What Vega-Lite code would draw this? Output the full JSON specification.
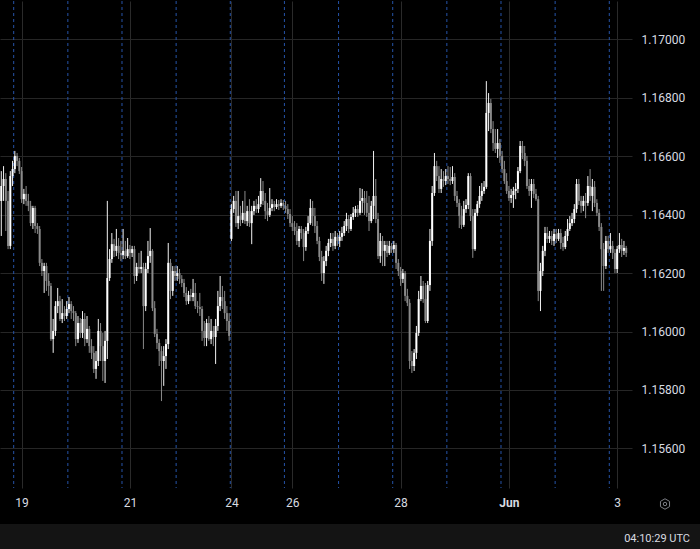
{
"$schema": "https://vega.github.io/schema/vega-lite/v6.json",
"background": "#000000",
"padding": 0,
"spacing": 12,
"config": {"view": {"stroke": null}, "font": "Roboto"},
"datasets": {
"sessions": [{"t":-0.5},{"t":23.5},{"t":47.5},{"t":71.5},{"t":95.5},{"t":119.5},{"t":143.5},{"t":167.5},{"t":191.5},{"t":215.5},{"t":239.5},{"t":263.5}],
"candles": [
{"t":-6,"o":1.16447,"h":1.16549,"l":1.16327,"c":1.16498},
{"t":-5,"o":1.16498,"h":1.16566,"l":1.16447,"c":1.16522},
{"t":-4,"o":1.16522,"h":1.16542,"l":1.16344,"c":1.16447},
{"t":-3,"o":1.16447,"h":1.16481,"l":1.16282,"c":1.16293},
{"t":-2,"o":1.16293,"h":1.16549,"l":1.16282,"c":1.16532},
{"t":-1,"o":1.16532,"h":1.16584,"l":1.16498,"c":1.16556},
{"t":0,"o":1.16556,"h":1.16618,"l":1.16542,"c":1.16601},
{"t":1,"o":1.16601,"h":1.16611,"l":1.16566,"c":1.16584},
{"t":2,"o":1.16584,"h":1.16594,"l":1.16539,"c":1.16549},
{"t":3,"o":1.16549,"h":1.16563,"l":1.1644,"c":1.16453},
{"t":4,"o":1.16453,"h":1.16488,"l":1.16436,"c":1.16471},
{"t":5,"o":1.16471,"h":1.16498,"l":1.1643,"c":1.16447},
{"t":6,"o":1.16447,"h":1.16471,"l":1.16412,"c":1.1643},
{"t":7,"o":1.1643,"h":1.16447,"l":1.16361,"c":1.16371},
{"t":8,"o":1.16371,"h":1.1643,"l":1.16351,"c":1.16423},
{"t":9,"o":1.16423,"h":1.1643,"l":1.16337,"c":1.16361},
{"t":10,"o":1.16361,"h":1.16371,"l":1.16334,"c":1.16351},
{"t":11,"o":1.16351,"h":1.16361,"l":1.16224,"c":1.16235},
{"t":12,"o":1.16235,"h":1.16248,"l":1.1619,"c":1.16207},
{"t":13,"o":1.16207,"h":1.16235,"l":1.16132,"c":1.16224},
{"t":14,"o":1.16224,"h":1.16235,"l":1.16139,"c":1.16173},
{"t":15,"o":1.16173,"h":1.162,"l":1.16122,"c":1.16156},
{"t":16,"o":1.16156,"h":1.16166,"l":1.15968,"c":1.15974},
{"t":17,"o":1.15974,"h":1.16043,"l":1.15927,"c":1.16002},
{"t":18,"o":1.16002,"h":1.16104,"l":1.15985,"c":1.16087},
{"t":19,"o":1.16087,"h":1.16149,"l":1.16063,"c":1.16104},
{"t":20,"o":1.16104,"h":1.16122,"l":1.16036,"c":1.16043},
{"t":21,"o":1.16043,"h":1.16111,"l":1.16029,"c":1.16063},
{"t":22,"o":1.16063,"h":1.16087,"l":1.16036,"c":1.16053},
{"t":23,"o":1.16053,"h":1.16104,"l":1.16043,"c":1.16077},
{"t":24,"o":1.16077,"h":1.16118,"l":1.16063,"c":1.16094},
{"t":25,"o":1.16094,"h":1.16104,"l":1.16043,"c":1.1607},
{"t":26,"o":1.1607,"h":1.16087,"l":1.16036,"c":1.16063},
{"t":27,"o":1.16063,"h":1.1607,"l":1.1595,"c":1.15974},
{"t":28,"o":1.15974,"h":1.16053,"l":1.15961,"c":1.16029},
{"t":29,"o":1.16029,"h":1.16046,"l":1.15978,"c":1.15995},
{"t":30,"o":1.15995,"h":1.1607,"l":1.15978,"c":1.16043},
{"t":31,"o":1.16043,"h":1.16063,"l":1.1595,"c":1.15974},
{"t":32,"o":1.15974,"h":1.16053,"l":1.15961,"c":1.16009},
{"t":33,"o":1.16009,"h":1.16019,"l":1.15927,"c":1.1595},
{"t":34,"o":1.1595,"h":1.15974,"l":1.15906,"c":1.15927},
{"t":35,"o":1.15927,"h":1.1595,"l":1.15858,"c":1.15872},
{"t":36,"o":1.15872,"h":1.15933,"l":1.15838,"c":1.15899},
{"t":37,"o":1.15899,"h":1.16043,"l":1.15882,"c":1.16002},
{"t":38,"o":1.16002,"h":1.16029,"l":1.15899,"c":1.1595},
{"t":39,"o":1.1595,"h":1.15995,"l":1.15831,"c":1.15899},
{"t":40,"o":1.15899,"h":1.16002,"l":1.15824,"c":1.15968},
{"t":41,"o":1.15968,"h":1.16447,"l":1.15906,"c":1.16183},
{"t":42,"o":1.16183,"h":1.16282,"l":1.16173,"c":1.16248},
{"t":43,"o":1.16248,"h":1.16337,"l":1.16235,"c":1.16299},
{"t":44,"o":1.16299,"h":1.16317,"l":1.16255,"c":1.16276},
{"t":45,"o":1.16276,"h":1.16351,"l":1.16258,"c":1.16293},
{"t":46,"o":1.16293,"h":1.1632,"l":1.16248,"c":1.16269},
{"t":47,"o":1.16269,"h":1.1631,"l":1.16241,"c":1.16262},
{"t":48,"o":1.16262,"h":1.16351,"l":1.16248,"c":1.16276},
{"t":49,"o":1.16276,"h":1.1631,"l":1.16248,"c":1.16258},
{"t":50,"o":1.16258,"h":1.1632,"l":1.16252,"c":1.16282},
{"t":51,"o":1.16282,"h":1.16296,"l":1.16248,"c":1.16269},
{"t":52,"o":1.16269,"h":1.16293,"l":1.16255,"c":1.16282},
{"t":53,"o":1.16282,"h":1.16293,"l":1.16163,"c":1.1619},
{"t":54,"o":1.1619,"h":1.16235,"l":1.16173,"c":1.16221},
{"t":55,"o":1.16221,"h":1.16269,"l":1.162,"c":1.16214},
{"t":56,"o":1.16214,"h":1.16276,"l":1.162,"c":1.16221},
{"t":57,"o":1.16221,"h":1.16235,"l":1.1594,"c":1.16087},
{"t":58,"o":1.16087,"h":1.16235,"l":1.1607,"c":1.16214},
{"t":59,"o":1.16214,"h":1.1631,"l":1.162,"c":1.16258},
{"t":60,"o":1.16258,"h":1.16354,"l":1.16235,"c":1.16276},
{"t":61,"o":1.16276,"h":1.16282,"l":1.1607,"c":1.1608},
{"t":62,"o":1.1608,"h":1.16104,"l":1.15981,"c":1.15992},
{"t":63,"o":1.15992,"h":1.16009,"l":1.1594,"c":1.15961},
{"t":64,"o":1.15961,"h":1.15974,"l":1.15882,"c":1.15933},
{"t":65,"o":1.15933,"h":1.1595,"l":1.15762,"c":1.15899},
{"t":66,"o":1.15899,"h":1.1595,"l":1.15814,"c":1.15916},
{"t":67,"o":1.15916,"h":1.15974,"l":1.15872,"c":1.15957},
{"t":68,"o":1.15957,"h":1.16303,"l":1.1594,"c":1.16235},
{"t":69,"o":1.16235,"h":1.16248,"l":1.16111,"c":1.16139},
{"t":70,"o":1.16139,"h":1.16224,"l":1.16122,"c":1.16207},
{"t":71,"o":1.16207,"h":1.16224,"l":1.16173,"c":1.1619},
{"t":72,"o":1.1619,"h":1.16224,"l":1.16173,"c":1.162},
{"t":73,"o":1.162,"h":1.16214,"l":1.16163,"c":1.1618},
{"t":74,"o":1.1618,"h":1.16193,"l":1.16152,"c":1.16166},
{"t":75,"o":1.16166,"h":1.1618,"l":1.16118,"c":1.16132},
{"t":76,"o":1.16132,"h":1.16152,"l":1.16091,"c":1.16104},
{"t":77,"o":1.16104,"h":1.16139,"l":1.16094,"c":1.16125},
{"t":78,"o":1.16125,"h":1.16146,"l":1.16104,"c":1.16118},
{"t":79,"o":1.16118,"h":1.1618,"l":1.16104,"c":1.16132},
{"t":80,"o":1.16132,"h":1.16166,"l":1.16077,"c":1.16087},
{"t":81,"o":1.16087,"h":1.16104,"l":1.16063,"c":1.16084},
{"t":82,"o":1.16084,"h":1.16132,"l":1.16053,"c":1.16077},
{"t":83,"o":1.16077,"h":1.16087,"l":1.15968,"c":1.16002},
{"t":84,"o":1.16002,"h":1.16036,"l":1.1595,"c":1.15978},
{"t":85,"o":1.15978,"h":1.16043,"l":1.1595,"c":1.16029},
{"t":86,"o":1.16029,"h":1.16053,"l":1.15968,"c":1.15974},
{"t":87,"o":1.15974,"h":1.16043,"l":1.15957,"c":1.16002},
{"t":88,"o":1.16002,"h":1.16019,"l":1.1595,"c":1.15981},
{"t":89,"o":1.15981,"h":1.16043,"l":1.15889,"c":1.16019},
{"t":90,"o":1.16019,"h":1.16139,"l":1.16002,"c":1.16087},
{"t":91,"o":1.16087,"h":1.1619,"l":1.1607,"c":1.16118},
{"t":92,"o":1.16118,"h":1.16156,"l":1.16077,"c":1.16104},
{"t":93,"o":1.16104,"h":1.16139,"l":1.16043,"c":1.16063},
{"t":94,"o":1.16063,"h":1.16087,"l":1.16002,"c":1.16036},
{"t":95,"o":1.16036,"h":1.16063,"l":1.15968,"c":1.15985},
{"t":96,"o":1.16317,"h":1.16436,"l":1.1631,"c":1.16419},
{"t":97,"o":1.16419,"h":1.16464,"l":1.16406,"c":1.16447},
{"t":98,"o":1.16447,"h":1.16481,"l":1.16358,"c":1.16371},
{"t":99,"o":1.16371,"h":1.16481,"l":1.16351,"c":1.16395},
{"t":100,"o":1.16395,"h":1.1643,"l":1.16361,"c":1.16382},
{"t":101,"o":1.16382,"h":1.16447,"l":1.16371,"c":1.16406},
{"t":102,"o":1.16406,"h":1.16481,"l":1.16368,"c":1.16378},
{"t":103,"o":1.16378,"h":1.1643,"l":1.16361,"c":1.16412},
{"t":104,"o":1.16412,"h":1.16453,"l":1.16358,"c":1.16371},
{"t":105,"o":1.16371,"h":1.1643,"l":1.16299,"c":1.16412},
{"t":106,"o":1.16412,"h":1.16447,"l":1.16399,"c":1.1643},
{"t":107,"o":1.1643,"h":1.16453,"l":1.16406,"c":1.16419},
{"t":108,"o":1.16419,"h":1.16464,"l":1.16406,"c":1.16436},
{"t":109,"o":1.16436,"h":1.16525,"l":1.16426,"c":1.16481},
{"t":110,"o":1.16481,"h":1.16515,"l":1.16433,"c":1.16447},
{"t":111,"o":1.16447,"h":1.16474,"l":1.16385,"c":1.16412},
{"t":112,"o":1.16412,"h":1.1644,"l":1.16378,"c":1.16399},
{"t":113,"o":1.16399,"h":1.16491,"l":1.16392,"c":1.16423},
{"t":114,"o":1.16423,"h":1.16453,"l":1.16412,"c":1.16436},
{"t":115,"o":1.16436,"h":1.16447,"l":1.16412,"c":1.16426},
{"t":116,"o":1.16426,"h":1.16453,"l":1.16419,"c":1.16436},
{"t":117,"o":1.16436,"h":1.1645,"l":1.16416,"c":1.1643},
{"t":118,"o":1.1643,"h":1.16453,"l":1.16423,"c":1.1644},
{"t":119,"o":1.1644,"h":1.1645,"l":1.16416,"c":1.1643},
{"t":120,"o":1.1643,"h":1.16447,"l":1.16406,"c":1.16419},
{"t":121,"o":1.16419,"h":1.16436,"l":1.16385,"c":1.16402},
{"t":122,"o":1.16402,"h":1.16419,"l":1.16358,"c":1.16371},
{"t":123,"o":1.16371,"h":1.16395,"l":1.16344,"c":1.16358},
{"t":124,"o":1.16358,"h":1.16378,"l":1.1633,"c":1.16344},
{"t":125,"o":1.16344,"h":1.16371,"l":1.16296,"c":1.1631},
{"t":126,"o":1.1631,"h":1.16361,"l":1.16289,"c":1.16351},
{"t":127,"o":1.16351,"h":1.16361,"l":1.16317,"c":1.16337},
{"t":128,"o":1.16337,"h":1.16351,"l":1.16241,"c":1.16289},
{"t":129,"o":1.16289,"h":1.16358,"l":1.16276,"c":1.16344},
{"t":130,"o":1.16344,"h":1.16395,"l":1.16334,"c":1.16371},
{"t":131,"o":1.16371,"h":1.16453,"l":1.16365,"c":1.16423},
{"t":132,"o":1.16423,"h":1.16447,"l":1.16361,"c":1.16395},
{"t":133,"o":1.16395,"h":1.16423,"l":1.16337,"c":1.16361},
{"t":134,"o":1.16361,"h":1.16378,"l":1.16299,"c":1.1631},
{"t":135,"o":1.1631,"h":1.16324,"l":1.16241,"c":1.16255},
{"t":136,"o":1.16255,"h":1.16276,"l":1.16173,"c":1.162},
{"t":137,"o":1.162,"h":1.16258,"l":1.16163,"c":1.16241},
{"t":138,"o":1.16241,"h":1.16293,"l":1.16224,"c":1.16276},
{"t":139,"o":1.16276,"h":1.16317,"l":1.16258,"c":1.16303},
{"t":140,"o":1.16303,"h":1.16337,"l":1.16289,"c":1.16317},
{"t":141,"o":1.16317,"h":1.16337,"l":1.16276,"c":1.16293},
{"t":142,"o":1.16293,"h":1.16344,"l":1.16282,"c":1.16324},
{"t":143,"o":1.16324,"h":1.16337,"l":1.16293,"c":1.1631},
{"t":144,"o":1.1631,"h":1.16344,"l":1.16289,"c":1.16324},
{"t":145,"o":1.16324,"h":1.16358,"l":1.1631,"c":1.16337},
{"t":146,"o":1.16337,"h":1.16378,"l":1.16327,"c":1.16361},
{"t":147,"o":1.16361,"h":1.16406,"l":1.16344,"c":1.16385},
{"t":148,"o":1.16385,"h":1.16399,"l":1.16337,"c":1.16351},
{"t":149,"o":1.16351,"h":1.16402,"l":1.16344,"c":1.16392},
{"t":150,"o":1.16392,"h":1.16426,"l":1.16382,"c":1.16406},
{"t":151,"o":1.16406,"h":1.1643,"l":1.16392,"c":1.16419},
{"t":152,"o":1.16419,"h":1.16433,"l":1.16392,"c":1.16406},
{"t":153,"o":1.16406,"h":1.16491,"l":1.16399,"c":1.16447},
{"t":154,"o":1.16447,"h":1.16488,"l":1.16406,"c":1.16457},
{"t":155,"o":1.16457,"h":1.16481,"l":1.16399,"c":1.1644},
{"t":156,"o":1.1644,"h":1.16481,"l":1.16392,"c":1.16406},
{"t":157,"o":1.16406,"h":1.16464,"l":1.16344,"c":1.16378},
{"t":158,"o":1.16378,"h":1.16447,"l":1.16371,"c":1.1643},
{"t":159,"o":1.1643,"h":1.16618,"l":1.16385,"c":1.16464},
{"t":160,"o":1.16464,"h":1.16522,"l":1.16371,"c":1.16385},
{"t":161,"o":1.16385,"h":1.16406,"l":1.16248,"c":1.16258},
{"t":162,"o":1.16258,"h":1.16337,"l":1.16235,"c":1.1631},
{"t":163,"o":1.1631,"h":1.16327,"l":1.16224,"c":1.16276},
{"t":164,"o":1.16276,"h":1.1631,"l":1.16224,"c":1.16296},
{"t":165,"o":1.16296,"h":1.1631,"l":1.16255,"c":1.16269},
{"t":166,"o":1.16269,"h":1.1631,"l":1.16262,"c":1.16293},
{"t":167,"o":1.16293,"h":1.16303,"l":1.16269,"c":1.16282},
{"t":168,"o":1.16282,"h":1.1631,"l":1.16269,"c":1.16296},
{"t":169,"o":1.16296,"h":1.16303,"l":1.16214,"c":1.16235},
{"t":170,"o":1.16235,"h":1.16248,"l":1.1619,"c":1.16207},
{"t":171,"o":1.16207,"h":1.16221,"l":1.16156,"c":1.1618},
{"t":172,"o":1.1618,"h":1.16214,"l":1.16166,"c":1.162},
{"t":173,"o":1.162,"h":1.16207,"l":1.16104,"c":1.16122},
{"t":174,"o":1.16122,"h":1.16146,"l":1.16087,"c":1.16098},
{"t":175,"o":1.16098,"h":1.16111,"l":1.15872,"c":1.15899},
{"t":176,"o":1.15899,"h":1.15933,"l":1.15858,"c":1.15882},
{"t":177,"o":1.15882,"h":1.1594,"l":1.15865,"c":1.15927},
{"t":178,"o":1.15927,"h":1.16019,"l":1.15906,"c":1.15995},
{"t":179,"o":1.15995,"h":1.16139,"l":1.15985,"c":1.16111},
{"t":180,"o":1.16111,"h":1.1619,"l":1.16104,"c":1.16156},
{"t":181,"o":1.16156,"h":1.16173,"l":1.16098,"c":1.16111},
{"t":182,"o":1.16111,"h":1.16166,"l":1.16029,"c":1.16036},
{"t":183,"o":1.16036,"h":1.16173,"l":1.16029,"c":1.16159},
{"t":184,"o":1.16159,"h":1.16351,"l":1.16139,"c":1.1631},
{"t":185,"o":1.1631,"h":1.16498,"l":1.16293,"c":1.16474},
{"t":186,"o":1.16474,"h":1.16611,"l":1.16464,"c":1.16566},
{"t":187,"o":1.16566,"h":1.16584,"l":1.16515,"c":1.16532},
{"t":188,"o":1.16532,"h":1.16566,"l":1.16474,"c":1.16488},
{"t":189,"o":1.16488,"h":1.16556,"l":1.16474,"c":1.16522},
{"t":190,"o":1.16522,"h":1.16549,"l":1.16495,"c":1.16515},
{"t":191,"o":1.16515,"h":1.16556,"l":1.16501,"c":1.16532},
{"t":192,"o":1.16532,"h":1.16566,"l":1.16505,"c":1.16522},
{"t":193,"o":1.16522,"h":1.16563,"l":1.16501,"c":1.16515},
{"t":194,"o":1.16515,"h":1.16566,"l":1.16505,"c":1.16529},
{"t":195,"o":1.16529,"h":1.16542,"l":1.16447,"c":1.16464},
{"t":196,"o":1.16464,"h":1.16481,"l":1.16426,"c":1.1644},
{"t":197,"o":1.1644,"h":1.16453,"l":1.16354,"c":1.16395},
{"t":198,"o":1.16395,"h":1.1643,"l":1.16351,"c":1.16365},
{"t":199,"o":1.16365,"h":1.16447,"l":1.16358,"c":1.16419},
{"t":200,"o":1.16419,"h":1.16453,"l":1.16406,"c":1.16433},
{"t":201,"o":1.16433,"h":1.16542,"l":1.16419,"c":1.16532},
{"t":202,"o":1.16532,"h":1.16542,"l":1.16378,"c":1.16395},
{"t":203,"o":1.16395,"h":1.16419,"l":1.16252,"c":1.16282},
{"t":204,"o":1.16282,"h":1.16419,"l":1.16276,"c":1.16406},
{"t":205,"o":1.16406,"h":1.16447,"l":1.16395,"c":1.16436},
{"t":206,"o":1.16436,"h":1.16498,"l":1.16423,"c":1.16464},
{"t":207,"o":1.16464,"h":1.16508,"l":1.16447,"c":1.16481},
{"t":208,"o":1.16481,"h":1.16515,"l":1.16471,"c":1.16495},
{"t":209,"o":1.16495,"h":1.16857,"l":1.16488,"c":1.16748},
{"t":210,"o":1.16748,"h":1.16816,"l":1.16686,"c":1.16782},
{"t":211,"o":1.16782,"h":1.16796,"l":1.16679,"c":1.16693},
{"t":212,"o":1.16693,"h":1.1672,"l":1.16618,"c":1.16645},
{"t":213,"o":1.16645,"h":1.16693,"l":1.16611,"c":1.16625},
{"t":214,"o":1.16625,"h":1.16693,"l":1.16594,"c":1.16645},
{"t":215,"o":1.16645,"h":1.16659,"l":1.16577,"c":1.16601},
{"t":216,"o":1.16601,"h":1.16618,"l":1.16542,"c":1.16556},
{"t":217,"o":1.16556,"h":1.16584,"l":1.16505,"c":1.16515},
{"t":218,"o":1.16515,"h":1.16542,"l":1.16471,"c":1.16481},
{"t":219,"o":1.16481,"h":1.16498,"l":1.16447,"c":1.16457},
{"t":220,"o":1.16457,"h":1.16488,"l":1.1644,"c":1.16467},
{"t":221,"o":1.16467,"h":1.16495,"l":1.16423,"c":1.16481},
{"t":222,"o":1.16481,"h":1.16508,"l":1.16453,"c":1.16488},
{"t":223,"o":1.16488,"h":1.16563,"l":1.16474,"c":1.16549},
{"t":224,"o":1.16549,"h":1.16652,"l":1.16542,"c":1.16635},
{"t":225,"o":1.16635,"h":1.16652,"l":1.1659,"c":1.16611},
{"t":226,"o":1.16611,"h":1.16635,"l":1.16566,"c":1.16584},
{"t":227,"o":1.16584,"h":1.16601,"l":1.16488,"c":1.16498},
{"t":228,"o":1.16498,"h":1.16522,"l":1.16464,"c":1.16481},
{"t":229,"o":1.16481,"h":1.16522,"l":1.16423,"c":1.16505},
{"t":230,"o":1.16505,"h":1.16522,"l":1.16457,"c":1.16471},
{"t":231,"o":1.16471,"h":1.16488,"l":1.16447,"c":1.16453},
{"t":232,"o":1.16453,"h":1.16464,"l":1.16104,"c":1.16139},
{"t":233,"o":1.16139,"h":1.16235,"l":1.1607,"c":1.16207},
{"t":234,"o":1.16207,"h":1.16293,"l":1.1619,"c":1.16276},
{"t":235,"o":1.16276,"h":1.16358,"l":1.16258,"c":1.16337},
{"t":236,"o":1.16337,"h":1.16358,"l":1.16303,"c":1.16317},
{"t":237,"o":1.16317,"h":1.16344,"l":1.16303,"c":1.16327},
{"t":238,"o":1.16327,"h":1.16344,"l":1.16296,"c":1.1631},
{"t":239,"o":1.1631,"h":1.16351,"l":1.16293,"c":1.16334},
{"t":240,"o":1.16334,"h":1.16351,"l":1.16303,"c":1.16317},
{"t":241,"o":1.16317,"h":1.16351,"l":1.1631,"c":1.16337},
{"t":242,"o":1.16337,"h":1.16351,"l":1.16282,"c":1.16303},
{"t":243,"o":1.16303,"h":1.16324,"l":1.16276,"c":1.16289},
{"t":244,"o":1.16289,"h":1.16344,"l":1.16282,"c":1.16327},
{"t":245,"o":1.16327,"h":1.16385,"l":1.1631,"c":1.16351},
{"t":246,"o":1.16351,"h":1.16395,"l":1.16344,"c":1.16371},
{"t":247,"o":1.16371,"h":1.16406,"l":1.16361,"c":1.16385},
{"t":248,"o":1.16385,"h":1.16436,"l":1.16371,"c":1.16419},
{"t":249,"o":1.16419,"h":1.16522,"l":1.16406,"c":1.16505},
{"t":250,"o":1.16505,"h":1.16522,"l":1.16433,"c":1.16447},
{"t":251,"o":1.16447,"h":1.16464,"l":1.16406,"c":1.1643},
{"t":252,"o":1.1643,"h":1.16464,"l":1.16412,"c":1.16447},
{"t":253,"o":1.16447,"h":1.16474,"l":1.16388,"c":1.1644},
{"t":254,"o":1.1644,"h":1.16532,"l":1.1643,"c":1.16498},
{"t":255,"o":1.16498,"h":1.16556,"l":1.16447,"c":1.16464},
{"t":256,"o":1.16464,"h":1.16522,"l":1.16412,"c":1.16495},
{"t":257,"o":1.16495,"h":1.16515,"l":1.16426,"c":1.1644},
{"t":258,"o":1.1644,"h":1.16453,"l":1.16395,"c":1.16406},
{"t":259,"o":1.16406,"h":1.16419,"l":1.16344,"c":1.16358},
{"t":260,"o":1.16358,"h":1.16371,"l":1.16139,"c":1.16282},
{"t":261,"o":1.16282,"h":1.16303,"l":1.16139,"c":1.16224},
{"t":262,"o":1.16224,"h":1.16327,"l":1.16214,"c":1.1631},
{"t":263,"o":1.1631,"h":1.16327,"l":1.16269,"c":1.16282},
{"t":264,"o":1.16282,"h":1.16337,"l":1.16269,"c":1.16293},
{"t":265,"o":1.16293,"h":1.1631,"l":1.16248,"c":1.16269},
{"t":266,"o":1.16269,"h":1.16282,"l":1.162,"c":1.16214},
{"t":267,"o":1.16214,"h":1.16293,"l":1.162,"c":1.16282},
{"t":268,"o":1.16282,"h":1.16337,"l":1.16269,"c":1.16296},
{"t":269,"o":1.16296,"h":1.16317,"l":1.16255,"c":1.16276},
{"t":270,"o":1.16276,"h":1.1631,"l":1.16262,"c":1.16286},
{"t":271,"o":1.16286,"h":1.16293,"l":1.16255,"c":1.16269}
]
},
"vconcat": [
{
"width": 632,
"height": 487,
"encoding": {
"x": {"field": "t", "type": "quantitative",
"scale": {"domain": [-6.574, 273.57], "nice": false, "zero": false, "padding": 0},
"axis": {"values": [3, 51, 96, 123, 171, 219, 267],
"labelExpr": "datum.value == 3 ? '19' : datum.value == 51 ? '21' : datum.value == 96 ? '24' : datum.value == 123 ? '26' : datum.value == 171 ? '28' : datum.value == 219 ? 'Jun' : '3'",
"title": null, "domain": false, "ticks": false, "labelPadding": 9, "labelColor": "#d8dbe0", "labelFontSize": 12, "labelFont": "Roboto",
"labelFontWeight": {"condition": {"test": "datum.value == 219", "value": "bold"}, "value": "normal"},
"labelFlush": false, "labelOverlap": false, "gridColor": "#2a2a2a", "gridWidth": 1}}
},
"layer": [
{"data": {"name": "sessions"},
"mark": {"type": "rule", "strokeDash": [3, 3], "color": "#2553a8", "strokeWidth": 1},
"encoding": {}},
{"data": {"name": "candles"},
"mark": {"type": "rule", "strokeWidth": 1},
"encoding": {
"y": {"field": "l", "type": "quantitative",
"scale": {"domain": [1.154645, 1.171311], "nice": false, "zero": false, "padding": 0},
"axis": {"orient": "right", "values": [1.156, 1.158, 1.16, 1.162, 1.164, 1.166, 1.168, 1.17], "format": ".5f", "title": null, "domain": false, "ticks": false, "labelPadding": 9, "labelColor": "#d8dbe0", "labelFontSize": 12, "labelFont": "Roboto", "gridColor": "#262626", "labelFlush": false}},
"y2": {"field": "h"},
"color": {"condition": {"test": "datum.c >= datum.o", "value": "#f2f2f2"}, "value": "#8a8a8a"}
}},
{"data": {"name": "candles"},
"mark": {"type": "bar", "size": 2},
"encoding": {
"y": {"field": "o", "type": "quantitative",
"scale": {"domain": [1.154645, 1.171311], "nice": false, "zero": false, "padding": 0},
"axis": {"orient": "right", "values": [1.156, 1.158, 1.16, 1.162, 1.164, 1.166, 1.168, 1.17], "format": ".5f", "title": null, "domain": false, "ticks": false, "labelPadding": 9, "labelColor": "#d8dbe0", "labelFontSize": 12, "labelFont": "Roboto", "gridColor": "#262626", "labelFlush": false}},
"y2": {"field": "c"},
"color": {"condition": {"test": "datum.c >= datum.o", "value": "#ffffff"}, "value": "#8a8a8a"}
}},
{"data": {"values": [{"k": "hex"}]},
"mark": {"type": "point", "shape": "M0,-1L0.866,-0.5L0.866,0.5L0,1L-0.866,0.5L-0.866,-0.5Z", "size": 110, "filled": false, "stroke": "#b2b5be", "strokeWidth": 1},
"encoding": {"x": {"value": 665}, "y": {"value": 503}}},
{"data": {"values": [{"k": "dot"}]},
"mark": {"type": "point", "shape": "circle", "size": 12, "filled": false, "stroke": "#b2b5be", "strokeWidth": 1},
"encoding": {"x": {"value": 665}, "y": {"value": 503}}}
]
},
{
"width": 700,
"height": 30,
"view": {"fill": "#141414", "stroke": null},
"data": {"values": [{"label": "04:10:29 UTC"}]},
"mark": {"type": "text", "align": "right", "baseline": "middle", "color": "#d8dbe0", "fontSize": 11, "font": "Roboto"},
"encoding": {"text": {"field": "label"}, "x": {"value": 690}, "y": {"value": 15}}
}
]
}
